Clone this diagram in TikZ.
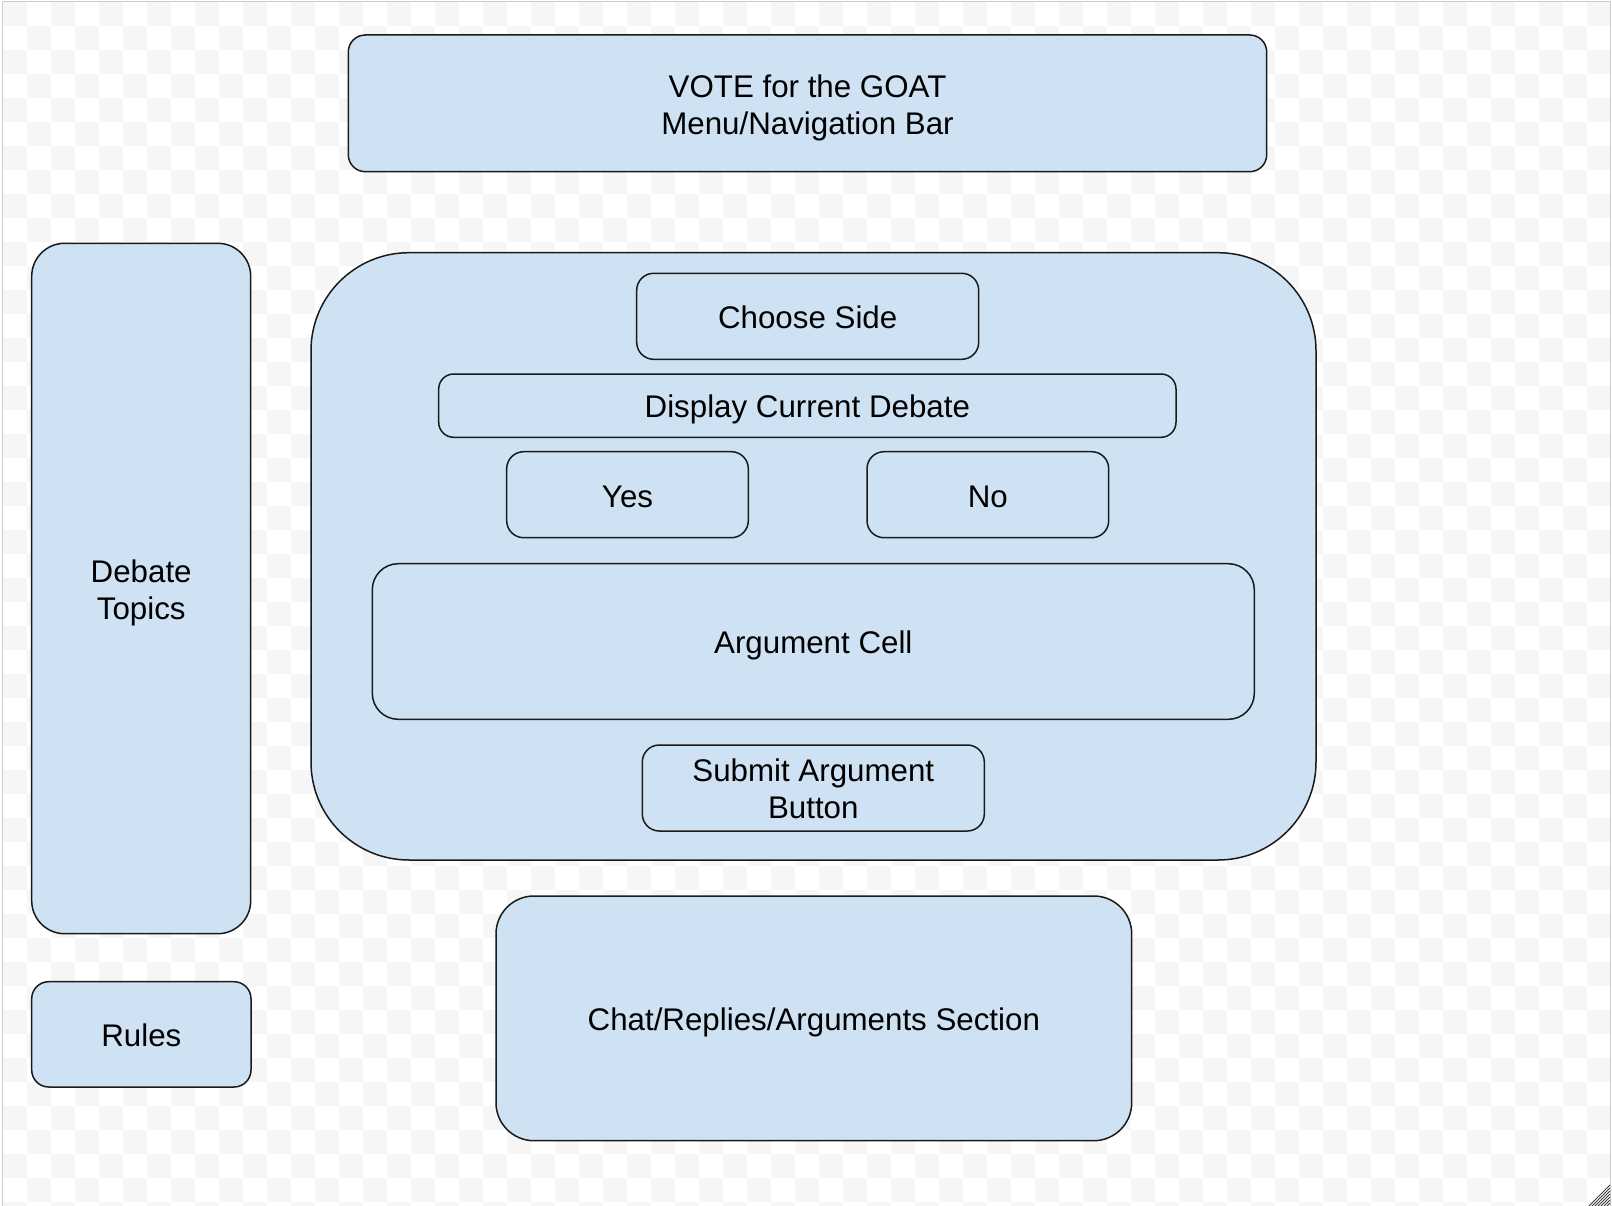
\documentclass[tikz,border=0pt]{standalone}
\usepackage{fontspec}
\setmainfont{Liberation Sans}
\definecolor{boxfill}{HTML}{CFE2F3}
\definecolor{checkgray}{HTML}{F6F6F6}
\definecolor{edgegray}{HTML}{CCCCCC}
\definecolor{strokecol}{HTML}{1A1A1A}
\tikzset{
  uibox/.style={draw=strokecol, line width=1.5pt, fill=boxfill, inner sep=0pt},
  uitext/.style={inner sep=0pt, align=center, text=black,
    font=\fontsize{31.3}{37}\selectfont},
}
\newcommand{\uibox}[7]{% name, x1, y1, x2, y2, radius, text
  \node[uibox, rounded corners=#6, minimum width={(#4-#2)*1pt}, minimum height={(#5-#3)*1pt}]
    (#1) at ({(#2+#4)/2},{(#3+#5)/2}) {};
  \node[uitext] (#1-text) at ({(#2+#4)/2},{(#3+#5)/2+12.3}) {#7};}
\begin{document}
\begin{tikzpicture}[x=1pt,y=-1pt]
\useasboundingbox (0,0) rectangle (1612,1206);
\fill[white] (0,0) rectangle (1612,1206);
% checkerboard background
\begin{scope}
\clip (3,2) rectangle (1611,1206);
\foreach \i in {0,...,67} {
  \foreach \j in {0,...,50} {
    \pgfmathtruncatemacro{\myparity}{mod(\i+\j,2)}
    \ifnum\myparity=0
      \fill[checkgray] ({3+24*\i},{2+24*\j}) rectangle ++(24,24);
    \fi
  }
}
\end{scope}
% frame
\draw[edgegray, line width=1pt] (2.5,1.5) -- (1610.5,1.5) -- (1610.5,1206);
\draw[edgegray, line width=1pt] (2.5,1.5) -- (2.5,1206);
% resize handle
\foreach \d in {3,6,...,21} {
  \draw[black!75, line width=1pt] ({1610-\d},1206) -- (1610,{1206-\d});
}
% boxes
\uibox{nav}{348.3}{35}{1266.7}{171.7}{17pt}{\smash{VOTE for the GOAT}\\\smash{Menu/Navigation Bar}}
\uibox{topics}{31.7}{243.3}{250.7}{933.7}{33pt}{\smash{Debate}\\\smash{Topics}}
\uibox{rules}{31.7}{981.7}{251}{1087}{17pt}{\smash{Rules}}
\uibox{main}{311}{252.7}{1316}{860}{98pt}{}
\uibox{side}{636.7}{273.3}{978.7}{359.3}{17pt}{\smash{Choose Side}}
\uibox{debate}{438.7}{374}{1176}{437.3}{15pt}{\smash{Display Current Debate}}
\uibox{yes}{506.7}{451.7}{748.3}{537.7}{17pt}{\smash{Yes}}
\uibox{no}{867}{451.7}{1108.7}{537.7}{17pt}{\smash{No}}
\uibox{arg}{372.3}{563.7}{1254.3}{719.3}{26pt}{\smash{Argument Cell}}
\uibox{submit}{642.3}{745}{984.3}{831}{17pt}{\smash{Submit Argument}\\\smash{Button}}
\uibox{chat}{496}{896}{1131.7}{1140.7}{38pt}{\smash{Chat/Replies/Arguments Section}}
\end{tikzpicture}
\end{document}
